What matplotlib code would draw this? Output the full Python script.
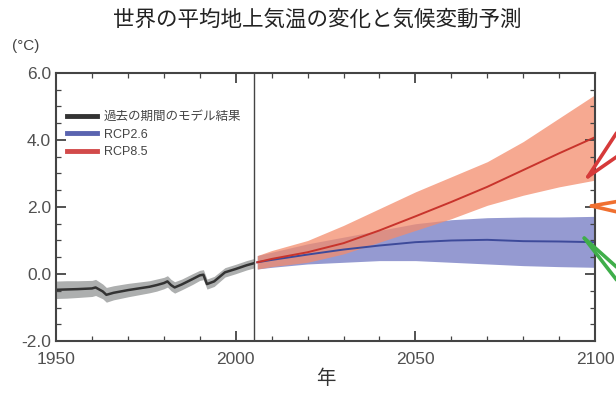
import matplotlib
matplotlib.use("Agg")
import matplotlib.pyplot as plt
from matplotlib.ticker import MultipleLocator

plt.rcParams['font.family'] = ['Liberation Sans', 'Noto Sans CJK JP', 'DejaVu Sans']

# 過去の期間 (1950-2005)
hist_years = [1950, 1953, 1956, 1960, 1961, 1963, 1964, 1966, 1970, 1973, 1976, 1978,
              1980, 1981, 1982, 1983, 1985, 1988, 1990, 1991, 1992, 1994, 1997, 2000, 2003, 2005]
hist_mean = [-0.47, -0.46, -0.45, -0.43, -0.40, -0.52, -0.62, -0.56, -0.48, -0.43, -0.38, -0.33,
             -0.27, -0.22, -0.33, -0.40, -0.31, -0.15, -0.04, -0.02, -0.30, -0.22, 0.05, 0.15, 0.26, 0.32]
hist_spread = [0.26, 0.26, 0.25, 0.24, 0.24, 0.22, 0.22, 0.21, 0.20, 0.19, 0.18, 0.18,
               0.17, 0.17, 0.17, 0.17, 0.16, 0.16, 0.15, 0.15, 0.15, 0.15, 0.14, 0.14, 0.14, 0.14]

# 予測 (2006-2100)
proj_years = [2006, 2010, 2020, 2030, 2040, 2050, 2060, 2070, 2080, 2090, 2100]
rcp85_mean = [0.35, 0.45, 0.65, 0.92, 1.30, 1.72, 2.15, 2.60, 3.10, 3.60, 4.08]
rcp85_hi = [0.55, 0.70, 1.00, 1.45, 1.95, 2.45, 2.90, 3.35, 3.95, 4.65, 5.35]
rcp85_lo = [0.15, 0.22, 0.35, 0.60, 0.95, 1.30, 1.65, 2.05, 2.35, 2.60, 2.80]
rcp26_mean = [0.35, 0.42, 0.58, 0.73, 0.85, 0.95, 1.00, 1.02, 0.98, 0.97, 0.95]
rcp26_hi = [0.55, 0.65, 0.90, 1.10, 1.30, 1.50, 1.62, 1.68, 1.70, 1.70, 1.72]
rcp26_lo = [0.15, 0.20, 0.30, 0.35, 0.40, 0.40, 0.35, 0.30, 0.25, 0.22, 0.20]

labels = ["過去の期間のモデル結果", "RCP2.6", "RCP8.5"]

fig = plt.figure(figsize=(6.16, 3.98), dpi=100)
ax = fig.add_axes([0.091, 0.143, 0.875, 0.674])

hist_lo = [m - s for m, s in zip(hist_mean, hist_spread)]
hist_hi = [m + s for m, s in zip(hist_mean, hist_spread)]
ax.fill_between(hist_years, hist_lo, hist_hi, color="#a4a6a6", lw=0, alpha=0.9)
ax.fill_between(proj_years, rcp26_lo, rcp26_hi, color="#8f95cf", lw=0, alpha=0.95)
ax.fill_between(proj_years, rcp85_lo, rcp85_hi, color="#f48c6c", lw=0, alpha=0.75)
ax.plot(hist_years, hist_mean, color="#333333", lw=1.8, label=labels[0])
ax.plot(proj_years, rcp26_mean, color="#3d4a9a", lw=1.4, label=labels[1])
ax.plot(proj_years, rcp85_mean, color="#c8342c", lw=1.4, label=labels[2])

ax.axvline(2005, color="#444444", lw=1.0)

ax.set_xlim(1950, 2100)
ax.set_ylim(-2, 6)
ax.xaxis.set_major_locator(MultipleLocator(50))
ax.xaxis.set_minor_locator(MultipleLocator(10))
ax.yaxis.set_major_locator(MultipleLocator(2))
ax.yaxis.set_minor_locator(MultipleLocator(0.5))
ax.set_yticklabels(["%.1f" % v for v in ax.get_yticks()])
ax.tick_params(which="both", direction="in", top=True, right=True, colors="#444444",
               labelcolor="#505050", labelsize=12.5)
ax.tick_params(which="major", length=7, width=1.3)
ax.tick_params(which="minor", length=3.5, width=0.9)
ax.tick_params(axis="x", pad=8)
for s in ax.spines.values():
    s.set_color("#444444")
    s.set_linewidth(1.5)

ax.set_xlabel("年", fontsize=14, color="#333333", labelpad=2)

leg = ax.legend(loc="upper left", bbox_to_anchor=(0.0, 0.9), frameon=False, fontsize=9,
                handlelength=2.4, handletextpad=0.5, labelspacing=0.45)
for h in leg.get_lines():
    h.set_linewidth(3.5)
leg.get_lines()[1].set_color("#5a64b0")
leg.get_lines()[2].set_color("#d24a4a")
for t in leg.get_texts():
    t.set_color("#444444")

# 右側の引き出し線
callouts = [(2098, 2.9, [0.776, 0.687], "#d63a3a"),
            (2099, 2.03, [0.52, 0.482], "#f07030"),
            (2097, 1.07, [0.276, 0.228], "#3fae4a")]
for x0, y0, ends, col in callouts:
    for yf in ends:
        ax.annotate("", xy=(x0, y0), xycoords="data", xytext=(1.04, yf), textcoords="axes fraction",
                    arrowprops=dict(arrowstyle="-", color=col, lw=2.6, shrinkA=0, shrinkB=0),
                    annotation_clip=False)

fig.text(0.515, 0.95, "世界の平均地上気温の変化と気候変動予測", ha="center", va="center",
         fontsize=15.5, color="#222222")
fig.text(0.02, 0.885, "(°C)", ha="left", va="center", fontsize=11, color="#444444")

fig.savefig("out.png", dpi=100)
